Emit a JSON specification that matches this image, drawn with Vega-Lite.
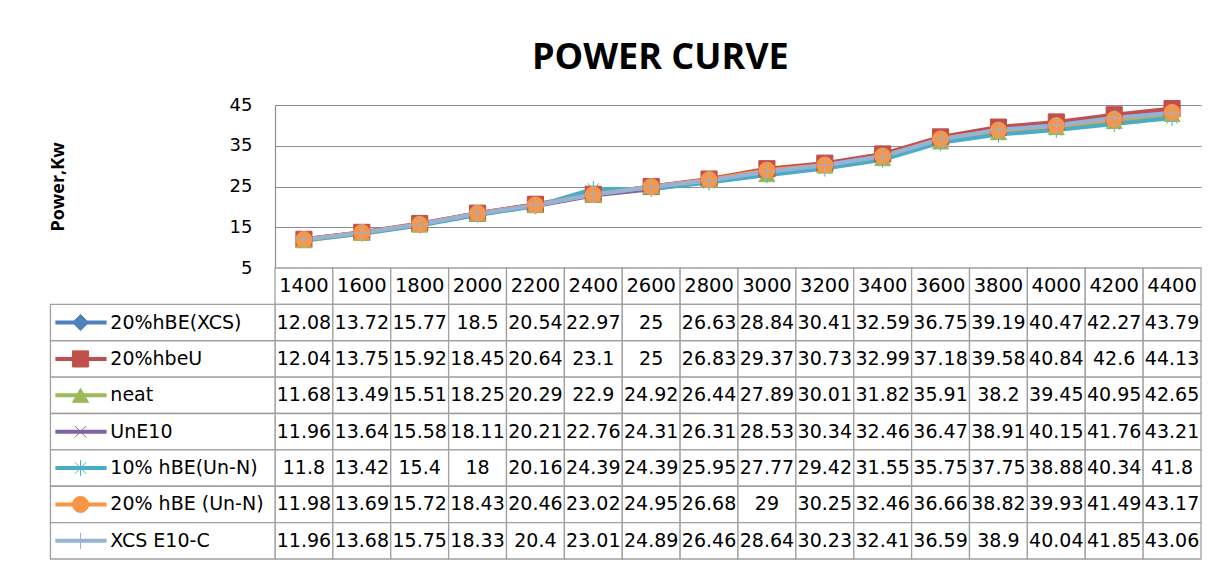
{
  "$schema": "https://vega.github.io/schema/vega-lite/v6.json",
  "background": "white",
  "padding": {"left": 49, "top": 40, "right": 16, "bottom": 7},
  "bounds": "flush",
  "title": {"text": "POWER CURVE", "font": "Open Sans", "fontSize": 36, "fontWeight": "bold", "color": "#000000", "anchor": "middle", "frame": "bounds", "dx": 35, "offset": 19},
  "config": {"view": {"stroke": null}},
  "datasets": {
    "pc": [
      {"series": "20%hBE(XCS)", "rpm": 1400, "power": 12.08}, {"series": "20%hBE(XCS)", "rpm": 1600, "power": 13.72}, {"series": "20%hBE(XCS)", "rpm": 1800, "power": 15.77}, {"series": "20%hBE(XCS)", "rpm": 2000, "power": 18.5}, {"series": "20%hBE(XCS)", "rpm": 2200, "power": 20.54}, {"series": "20%hBE(XCS)", "rpm": 2400, "power": 22.97}, {"series": "20%hBE(XCS)", "rpm": 2600, "power": 25}, {"series": "20%hBE(XCS)", "rpm": 2800, "power": 26.63}, {"series": "20%hBE(XCS)", "rpm": 3000, "power": 28.84}, {"series": "20%hBE(XCS)", "rpm": 3200, "power": 30.41}, {"series": "20%hBE(XCS)", "rpm": 3400, "power": 32.59}, {"series": "20%hBE(XCS)", "rpm": 3600, "power": 36.75}, {"series": "20%hBE(XCS)", "rpm": 3800, "power": 39.19}, {"series": "20%hBE(XCS)", "rpm": 4000, "power": 40.47}, {"series": "20%hBE(XCS)", "rpm": 4200, "power": 42.27}, {"series": "20%hBE(XCS)", "rpm": 4400, "power": 43.79},
      {"series": "20%hbeU", "rpm": 1400, "power": 12.04}, {"series": "20%hbeU", "rpm": 1600, "power": 13.75}, {"series": "20%hbeU", "rpm": 1800, "power": 15.92}, {"series": "20%hbeU", "rpm": 2000, "power": 18.45}, {"series": "20%hbeU", "rpm": 2200, "power": 20.64}, {"series": "20%hbeU", "rpm": 2400, "power": 23.1}, {"series": "20%hbeU", "rpm": 2600, "power": 25}, {"series": "20%hbeU", "rpm": 2800, "power": 26.83}, {"series": "20%hbeU", "rpm": 3000, "power": 29.37}, {"series": "20%hbeU", "rpm": 3200, "power": 30.73}, {"series": "20%hbeU", "rpm": 3400, "power": 32.99}, {"series": "20%hbeU", "rpm": 3600, "power": 37.18}, {"series": "20%hbeU", "rpm": 3800, "power": 39.58}, {"series": "20%hbeU", "rpm": 4000, "power": 40.84}, {"series": "20%hbeU", "rpm": 4200, "power": 42.6}, {"series": "20%hbeU", "rpm": 4400, "power": 44.13},
      {"series": "neat", "rpm": 1400, "power": 11.68}, {"series": "neat", "rpm": 1600, "power": 13.49}, {"series": "neat", "rpm": 1800, "power": 15.51}, {"series": "neat", "rpm": 2000, "power": 18.25}, {"series": "neat", "rpm": 2200, "power": 20.29}, {"series": "neat", "rpm": 2400, "power": 22.9}, {"series": "neat", "rpm": 2600, "power": 24.92}, {"series": "neat", "rpm": 2800, "power": 26.44}, {"series": "neat", "rpm": 3000, "power": 27.89}, {"series": "neat", "rpm": 3200, "power": 30.01}, {"series": "neat", "rpm": 3400, "power": 31.82}, {"series": "neat", "rpm": 3600, "power": 35.91}, {"series": "neat", "rpm": 3800, "power": 38.2}, {"series": "neat", "rpm": 4000, "power": 39.45}, {"series": "neat", "rpm": 4200, "power": 40.95}, {"series": "neat", "rpm": 4400, "power": 42.65},
      {"series": "UnE10", "rpm": 1400, "power": 11.96}, {"series": "UnE10", "rpm": 1600, "power": 13.64}, {"series": "UnE10", "rpm": 1800, "power": 15.58}, {"series": "UnE10", "rpm": 2000, "power": 18.11}, {"series": "UnE10", "rpm": 2200, "power": 20.21}, {"series": "UnE10", "rpm": 2400, "power": 22.76}, {"series": "UnE10", "rpm": 2600, "power": 24.31}, {"series": "UnE10", "rpm": 2800, "power": 26.31}, {"series": "UnE10", "rpm": 3000, "power": 28.53}, {"series": "UnE10", "rpm": 3200, "power": 30.34}, {"series": "UnE10", "rpm": 3400, "power": 32.46}, {"series": "UnE10", "rpm": 3600, "power": 36.47}, {"series": "UnE10", "rpm": 3800, "power": 38.91}, {"series": "UnE10", "rpm": 4000, "power": 40.15}, {"series": "UnE10", "rpm": 4200, "power": 41.76}, {"series": "UnE10", "rpm": 4400, "power": 43.21},
      {"series": "10% hBE(Un-N)", "rpm": 1400, "power": 11.8}, {"series": "10% hBE(Un-N)", "rpm": 1600, "power": 13.42}, {"series": "10% hBE(Un-N)", "rpm": 1800, "power": 15.4}, {"series": "10% hBE(Un-N)", "rpm": 2000, "power": 18}, {"series": "10% hBE(Un-N)", "rpm": 2200, "power": 20.16}, {"series": "10% hBE(Un-N)", "rpm": 2400, "power": 24.39}, {"series": "10% hBE(Un-N)", "rpm": 2600, "power": 24.39}, {"series": "10% hBE(Un-N)", "rpm": 2800, "power": 25.95}, {"series": "10% hBE(Un-N)", "rpm": 3000, "power": 27.77}, {"series": "10% hBE(Un-N)", "rpm": 3200, "power": 29.42}, {"series": "10% hBE(Un-N)", "rpm": 3400, "power": 31.55}, {"series": "10% hBE(Un-N)", "rpm": 3600, "power": 35.75}, {"series": "10% hBE(Un-N)", "rpm": 3800, "power": 37.75}, {"series": "10% hBE(Un-N)", "rpm": 4000, "power": 38.88}, {"series": "10% hBE(Un-N)", "rpm": 4200, "power": 40.34}, {"series": "10% hBE(Un-N)", "rpm": 4400, "power": 41.8},
      {"series": "20% hBE (Un-N)", "rpm": 1400, "power": 11.98}, {"series": "20% hBE (Un-N)", "rpm": 1600, "power": 13.69}, {"series": "20% hBE (Un-N)", "rpm": 1800, "power": 15.72}, {"series": "20% hBE (Un-N)", "rpm": 2000, "power": 18.43}, {"series": "20% hBE (Un-N)", "rpm": 2200, "power": 20.46}, {"series": "20% hBE (Un-N)", "rpm": 2400, "power": 23.02}, {"series": "20% hBE (Un-N)", "rpm": 2600, "power": 24.95}, {"series": "20% hBE (Un-N)", "rpm": 2800, "power": 26.68}, {"series": "20% hBE (Un-N)", "rpm": 3000, "power": 29}, {"series": "20% hBE (Un-N)", "rpm": 3200, "power": 30.25}, {"series": "20% hBE (Un-N)", "rpm": 3400, "power": 32.46}, {"series": "20% hBE (Un-N)", "rpm": 3600, "power": 36.66}, {"series": "20% hBE (Un-N)", "rpm": 3800, "power": 38.82}, {"series": "20% hBE (Un-N)", "rpm": 4000, "power": 39.93}, {"series": "20% hBE (Un-N)", "rpm": 4200, "power": 41.49}, {"series": "20% hBE (Un-N)", "rpm": 4400, "power": 43.17},
      {"series": "XCS E10-C", "rpm": 1400, "power": 11.96}, {"series": "XCS E10-C", "rpm": 1600, "power": 13.68}, {"series": "XCS E10-C", "rpm": 1800, "power": 15.75}, {"series": "XCS E10-C", "rpm": 2000, "power": 18.33}, {"series": "XCS E10-C", "rpm": 2200, "power": 20.4}, {"series": "XCS E10-C", "rpm": 2400, "power": 23.01}, {"series": "XCS E10-C", "rpm": 2600, "power": 24.89}, {"series": "XCS E10-C", "rpm": 2800, "power": 26.46}, {"series": "XCS E10-C", "rpm": 3000, "power": 28.64}, {"series": "XCS E10-C", "rpm": 3200, "power": 30.23}, {"series": "XCS E10-C", "rpm": 3400, "power": 32.41}, {"series": "XCS E10-C", "rpm": 3600, "power": 36.59}, {"series": "XCS E10-C", "rpm": 3800, "power": 38.9}, {"series": "XCS E10-C", "rpm": 4000, "power": 40.04}, {"series": "XCS E10-C", "rpm": 4200, "power": 41.85}, {"series": "XCS E10-C", "rpm": 4400, "power": 43.06}
    ]
  },
  "spacing": 0,
  "vconcat": [
    {
      "width": 926,
      "height": 163,
      "data": {"name": "pc"},
      "encoding": {
        "x": {"field": "rpm", "type": "quantitative", "scale": {"domain": [1300, 4500], "nice": false, "zero": false}, "axis": null},
        "y": {"field": "power", "type": "quantitative", "scale": {"domain": [5, 45], "nice": false, "zero": false},
          "axis": {"values": [5, 15, 25, 35, 45], "title": "Power,Kw", "titleFont": "Open Sans", "titleFontSize": 18, "titleFontWeight": "bold", "titleColor": "#000000", "titlePadding": 162,
            "labelFont": "DejaVu Sans", "labelFontSize": 18, "labelColor": "#000000", "labelPadding": 23, "ticks": false,
            "grid": true, "gridColor": "#8c8c8c", "gridWidth": 1.2, "domainColor": "#8c8c8c", "domainWidth": 1.2}},
        "color": {"field": "series", "type": "nominal", "legend": null,
          "scale": {"domain": ["20%hBE(XCS)", "20%hbeU", "neat", "UnE10", "10% hBE(Un-N)", "20% hBE (Un-N)", "XCS E10-C"],
            "range": ["#4F81BD", "#C0504D", "#9BBB59", "#8064A2", "#4BACC6", "#F79646", "#95B3D7"]}}
      },
      "layer": [
        {"mark": {"type": "line", "strokeWidth": 4}},
        {"mark": {"type": "point", "filled": true, "opacity": 1, "size": 260},
          "encoding": {
            "stroke": {"field": "series", "type": "nominal", "legend": null,
              "scale": {"domain": ["20%hBE(XCS)", "20%hbeU", "neat", "UnE10", "10% hBE(Un-N)", "20% hBE (Un-N)", "XCS E10-C"],
                "range": ["#4F81BD", "#C0504D", "#9BBB59", "#8064A2", "#4BACC6", "#F79646", "#95B3D7"]}},
            "shape": {"field": "series", "type": "nominal", "legend": null,
              "scale": {"domain": ["20%hBE(XCS)", "20%hbeU", "neat", "UnE10", "10% hBE(Un-N)", "20% hBE (Un-N)", "XCS E10-C"],
                "range": ["diamond", "square", "triangle-up", "M-0.7,-0.7L0.7,0.7M-0.7,0.7L0.7,-0.7", "M-0.7,-0.7L0.7,0.7M-0.7,0.7L0.7,-0.7M0,-1L0,1", "circle", "M-1,0L1,0M0,-1L0,1"]}},
            "strokeWidth": {"field": "series", "type": "nominal", "legend": null,
              "scale": {"domain": ["20%hBE(XCS)", "20%hbeU", "neat", "UnE10", "10% hBE(Un-N)", "20% hBE (Un-N)", "XCS E10-C"],
                "range": [1, 1, 1, 3, 3, 1, 3]}}
          }}
      ]
    },
    {
      "width": 926,
      "height": 291,
      "data": {"name": "pc"},
      "transform": [
        {"calculate": "datum.rpm - 100", "as": "xl"},
        {"calculate": "datum.rpm + 100", "as": "xr"}
      ],
      "encoding": {
        "y": {"field": "series", "type": "nominal", "axis": null,
          "scale": {"domain": ["_h", "20%hBE(XCS)", "20%hbeU", "neat", "UnE10", "10% hBE(Un-N)", "20% hBE (Un-N)", "XCS E10-C"], "paddingInner": 0, "paddingOuter": 0}}
      },
      "layer": [
        {
          "transform": [{"filter": "datum.series === '20%hBE(XCS)'"}],
          "mark": {"type": "rect", "fill": "white", "stroke": "#a0a0a0", "strokeWidth": 1.3},
          "encoding": {
            "x": {"field": "xl", "type": "quantitative", "scale": {"domain": [1300, 4500], "nice": false, "zero": false}, "axis": null},
            "x2": {"field": "xr"},
            "y": {"datum": "_h", "type": "nominal"}
          }
        },
        {
          "mark": {"type": "rect", "fill": "white", "stroke": "#a0a0a0", "strokeWidth": 1.3},
          "encoding": {
            "x": {"field": "xl", "type": "quantitative"},
            "x2": {"field": "xr"}
          }
        },
        {
          "transform": [{"filter": "datum.rpm === 1400"}],
          "mark": {"type": "rect", "fill": "white", "stroke": "#a0a0a0", "strokeWidth": 1.3},
          "encoding": {
            "x": {"datum": 524, "type": "quantitative"},
            "x2": {"datum": 1300}
          }
        },
        {
          "transform": [{"filter": "datum.rpm === 1400"}],
          "mark": {"type": "rule", "strokeWidth": 4},
          "encoding": {
            "x": {"datum": 541, "type": "quantitative"},
            "x2": {"datum": 718},
            "color": {"field": "series", "type": "nominal", "legend": null,
              "scale": {"domain": ["20%hBE(XCS)", "20%hbeU", "neat", "UnE10", "10% hBE(Un-N)", "20% hBE (Un-N)", "XCS E10-C"],
                "range": ["#4F81BD", "#C0504D", "#9BBB59", "#8064A2", "#4BACC6", "#F79646", "#95B3D7"]}}
          }
        },
        {
          "transform": [{"filter": "datum.rpm === 1400"}],
          "mark": {"type": "point", "filled": true, "opacity": 1, "size": 260},
          "encoding": {
            "x": {"datum": 628, "type": "quantitative"},
            "color": {"field": "series", "type": "nominal", "legend": null},
            "stroke": {"field": "series", "type": "nominal", "legend": null,
              "scale": {"domain": ["20%hBE(XCS)", "20%hbeU", "neat", "UnE10", "10% hBE(Un-N)", "20% hBE (Un-N)", "XCS E10-C"],
                "range": ["#4F81BD", "#C0504D", "#9BBB59", "#8064A2", "#4BACC6", "#F79646", "#95B3D7"]}},
            "shape": {"field": "series", "type": "nominal", "legend": null,
              "scale": {"domain": ["20%hBE(XCS)", "20%hbeU", "neat", "UnE10", "10% hBE(Un-N)", "20% hBE (Un-N)", "XCS E10-C"],
                "range": ["diamond", "square", "triangle-up", "M-0.7,-0.7L0.7,0.7M-0.7,0.7L0.7,-0.7", "M-0.7,-0.7L0.7,0.7M-0.7,0.7L0.7,-0.7M0,-1L0,1", "circle", "M-1,0L1,0M0,-1L0,1"]}},
            "strokeWidth": {"field": "series", "type": "nominal", "legend": null,
              "scale": {"domain": ["20%hBE(XCS)", "20%hbeU", "neat", "UnE10", "10% hBE(Un-N)", "20% hBE (Un-N)", "XCS E10-C"],
                "range": [1, 1, 1, 3, 3, 1, 3]}}
          }
        },
        {
          "transform": [{"filter": "datum.rpm === 1400"}],
          "mark": {"type": "text", "align": "left", "baseline": "middle", "font": "DejaVu Sans", "fontSize": 19, "color": "#000000"},
          "encoding": {
            "x": {"datum": 731, "type": "quantitative"},
            "text": {"field": "series", "type": "nominal"}
          }
        },
        {
          "mark": {"type": "text", "align": "center", "baseline": "middle", "font": "DejaVu Sans", "fontSize": 19, "color": "#000000"},
          "encoding": {
            "x": {"field": "rpm", "type": "quantitative"},
            "text": {"field": "power", "type": "nominal"}
          }
        },
        {
          "transform": [{"filter": "datum.series === '20%hBE(XCS)'"}],
          "mark": {"type": "text", "align": "center", "baseline": "middle", "font": "DejaVu Sans", "fontSize": 19.5, "color": "#000000"},
          "encoding": {
            "x": {"field": "rpm", "type": "quantitative"},
            "y": {"datum": "_h", "type": "nominal"},
            "text": {"field": "rpm", "type": "nominal"}
          }
        }
      ]
    }
  ]
}
